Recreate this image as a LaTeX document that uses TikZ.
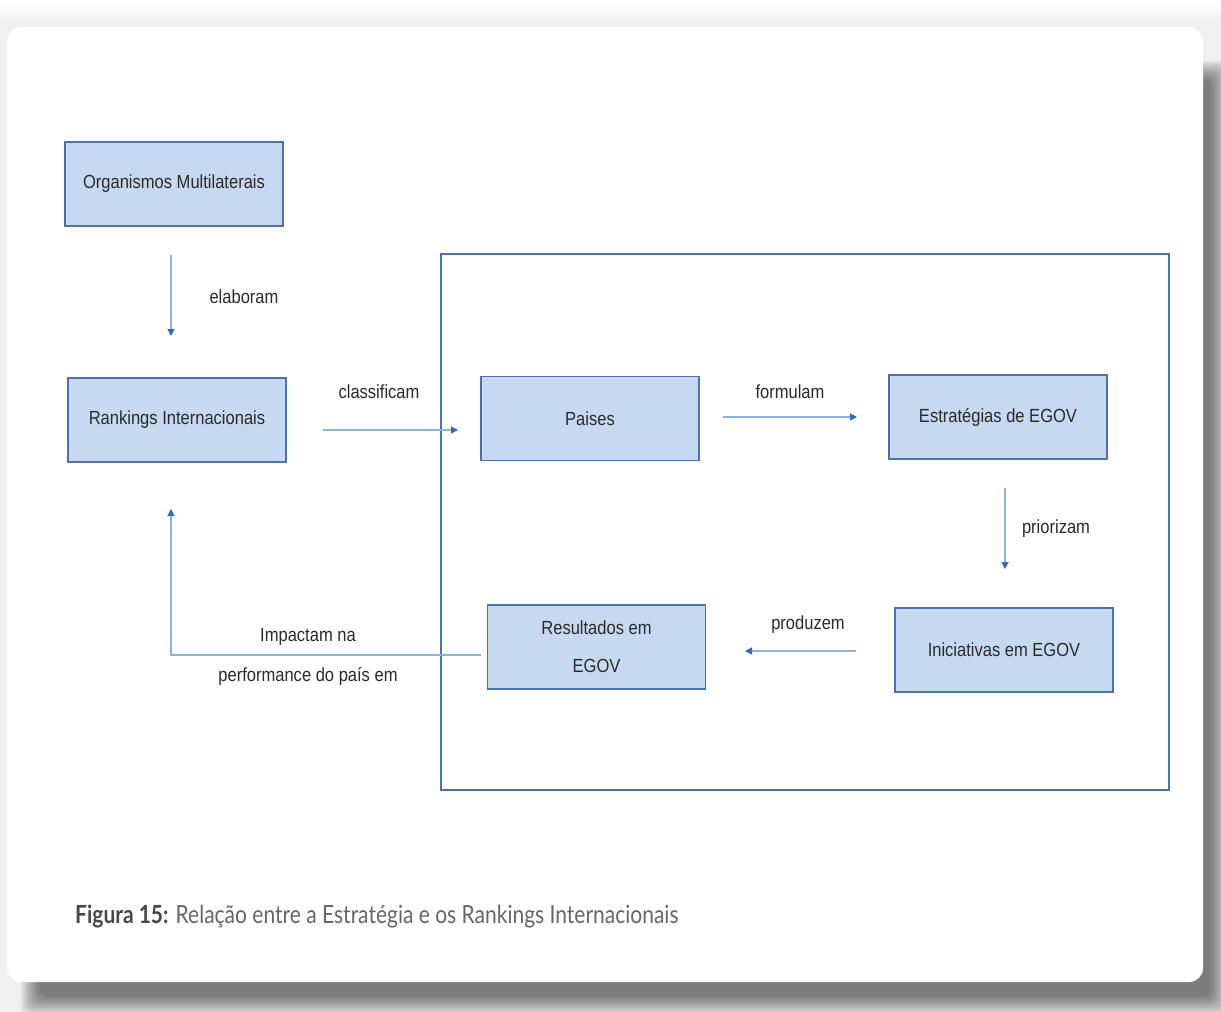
\documentclass[tikz,border=0pt]{standalone}
\usepackage{fontspec}
\setmainfont{Liberation Sans}
\newfontfamily\diagfont[FakeStretch=0.87]{Liberation Sans}
\newfontfamily\capfont[FakeStretch=0.84]{Lato}
\usetikzlibrary{arrows.meta}
\definecolor{boxfill}{HTML}{C6D9F0}
\definecolor{boxline}{HTML}{4C72AE}
\definecolor{frameline}{HTML}{4A72AE}
\definecolor{arrline}{HTML}{8FB3E0}
\definecolor{arrtip}{HTML}{2E6DB8}
\definecolor{txt}{HTML}{2A2A2A}
\definecolor{captxt}{HTML}{666666}
\definecolor{capbold}{HTML}{484848}
\tikzset{
  x=1pt, y=-1pt,
  stepbox/.style={draw=boxline, line width=1.6pt, fill=boxfill,
    minimum width=218pt, minimum height=84pt, inner sep=0pt,
    font=\diagfont\fontsize{19}{38}\selectfont, text=txt, align=center},
  lbl/.style={font=\diagfont\fontsize{19}{23}\selectfont, text=txt, inner sep=0pt},
  flow/.style={draw=arrline, line width=1.2pt,
    -{Triangle[width=7pt,length=7pt,color=arrtip]}},
}
\begin{document}
\begin{tikzpicture}
% page and card with its soft shadow
\useasboundingbox (0,0) rectangle (1221,1012);
\fill[white] (0,0) rectangle (1221,1012);
\shade[top color=white, bottom color=black!7] (0,0) rectangle (1221,30);
\fill[black!6] (0,30) rectangle (1221,1012);
\foreach \k in {0,...,13}
  \fill[black, opacity=0.045, rounded corners=8pt]
    (40-1.5*\k, 80-1.5*\k) rectangle (1210+1.5*\k, 996+1.5*\k);
\fill[white, rounded corners=14pt] (7,27) rectangle (1203,982);

% boxes
\node[stepbox] (org) at (174,184) {Organismos Multilaterais};
\node[stepbox] (rank) at (177,420) {Rankings Internacionais};
\draw[frameline, line width=1.5pt] (441,254) rectangle (1169,790);
\node[stepbox] (pais) at (590,418.5) {Paises};
\node[stepbox] (estr) at (998,417) {Estratégias de EGOV};
\node[stepbox] (inic) at (1004,650) {Iniciativas em EGOV};
\node[stepbox] (res) at (596.5,647) {Resultados em\\EGOV};

% connector end points
\coordinate (e1) at (171,255);  \coordinate (e2) at (171,336);
\coordinate (c1) at (323,430);  \coordinate (c2) at (458,430);
\coordinate (f1) at (723,417);  \coordinate (f2) at (857,417);
\coordinate (p1) at (1005,488); \coordinate (p2) at (1005,569);
\coordinate (d1) at (856,651);  \coordinate (d2) at (745,651);
\coordinate (i1) at (481,655);  \coordinate (i2) at (171,655);
\coordinate (i3) at (171,509);

\draw[flow] (e1) -- (e2);
\draw[flow] (c1) -- (c2);
\draw[flow] (f1) -- (f2);
\draw[flow] (p1) -- (p2);
\draw[flow] (d1) -- (d2);
\draw[flow] (i1) -- (i2) -- (i3);

% connector labels
\node[lbl] (l1) at (244,297) {elaboram};
\node[lbl] (l2) at (379,392) {classificam};
\node[lbl] (l3) at (790,392) {formulam};
\node[lbl] (l4) at (1056,529) {priorizam};
\node[lbl] (l5) at (808,625) {produzem};
\node[lbl] (l6) at (308,637) {Impactam na};
\node[lbl] (l7) at (308,676) {performance do país em};

% caption
\node[anchor=west, inner sep=0pt, font=\capfont\fontsize{25}{30}\selectfont]
  (cap) at (75,917)
  {\textcolor{capbold}{\bfseries Figura 15:} \textcolor{captxt}{Relação entre a Estratégia e os Rankings Internacionais}};
\end{tikzpicture}
\end{document}
